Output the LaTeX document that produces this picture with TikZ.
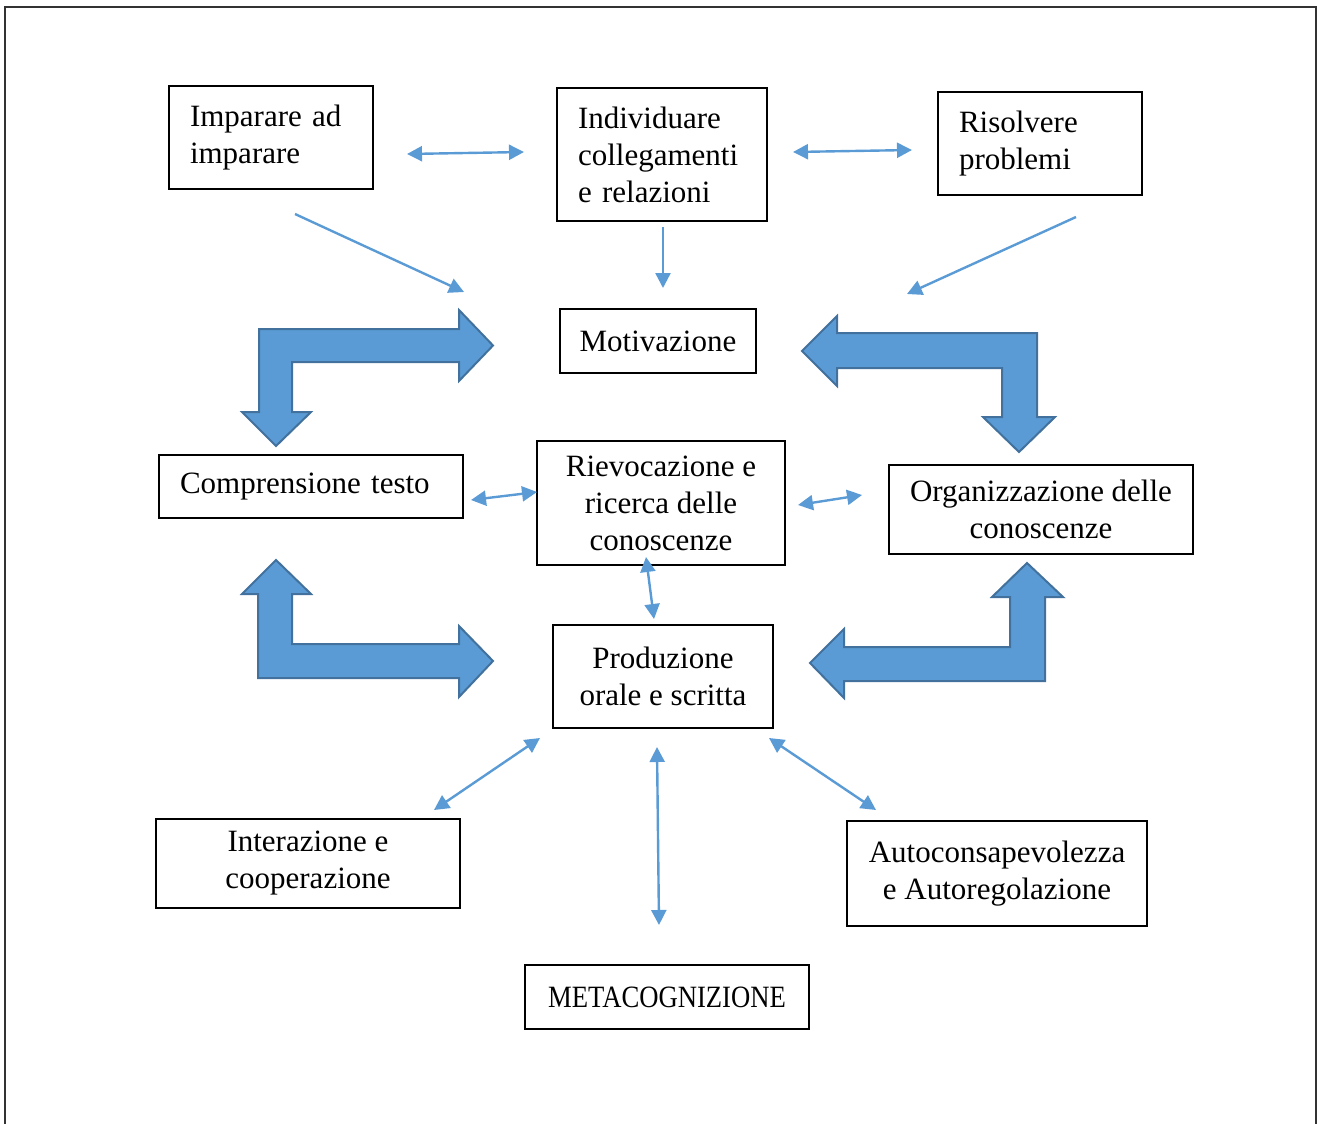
\documentclass[tikz,border=0pt]{standalone}
\usepackage{fontspec}
\setmainfont{Liberation Serif}
\usepackage{tikz}
\usetikzlibrary{arrows.meta}
\definecolor{mkblue}{HTML}{5B9BD5}
\definecolor{mkedge}{HTML}{41719C}
\definecolor{mkframe}{HTML}{333333}

\begin{document}
\begin{tikzpicture}[
  x=1pt, y=-1pt,
  box/.style={draw=black, line width=1.3pt, rectangle, inner xsep=15pt, inner ysep=0pt, align=center, font=\fontsize{31pt}{37pt}\selectfont},
  lbox/.style={box, inner xsep=21pt, align=left},
  thin/.style={draw=mkblue, line width=2.4pt, {Triangle[length=15pt,width=15pt]}-{Triangle[length=15pt,width=15pt]}},
  onearr/.style={draw=mkblue, line width=2.4pt, -{Triangle[length=15pt,width=15pt]}},
  bent/.style={fill=mkblue, draw=mkedge, line width=2pt, line join=miter}
]
\useasboundingbox (0,0) rectangle (1317,1124);
\draw[mkframe, line width=1.6pt] (5,1124) -- (5,7) -- (1316,7) -- (1316,1124);

\node[lbox, text width=162pt, minimum height=103pt] (imp) at (271,137.5) {Imparare ad\\imparare};
\node[lbox, text width=168pt, minimum height=133pt] (ind) at (662,154.5) {Individuare\\collegamenti\\e relazioni};
\node[lbox, text width=162pt, minimum height=103pt] (ris) at (1040,143.5) {Risolvere\\problemi};
\node[box, minimum width=196pt, minimum height=64pt] (mot) at (658,341) {Motivazione};
\node[lbox, text width=262pt, minimum height=63pt] (comp) at (311,486.5) {Comprensione testo};
\node[box, minimum width=248pt, minimum height=124pt] (riev) at (661,503) {Rievocazione e\\ricerca delle\\conoscenze};
\node[box, minimum width=304pt, minimum height=89pt] (org) at (1041,509.5) {Organizzazione delle\\conoscenze};
\node[box, minimum width=220pt, minimum height=103pt] (prod) at (663,676.5) {Produzione\\orale e scritta};
\node[box, minimum width=304pt, minimum height=89pt] (inter) at (308,863.5) {Interazione e\\cooperazione};
\node[box, minimum width=300pt, minimum height=105pt] (auto) at (997,873.5) {Autoconsapevolezza\\e Autoregolazione};
\node[box, minimum width=284pt, minimum height=64pt] (meta) at (667,997) {\scalebox{0.86}[1]{METACOGNIZIONE}};

\coordinate (impR) at (407,154);
\coordinate (indL) at (524,152);
\coordinate (indR) at (793,152);
\coordinate (risL) at (912,150);
\coordinate (indB) at (663,227);
\coordinate (motT) at (663,288);
\coordinate (impB) at (295,214);
\coordinate (motL) at (464,292);
\coordinate (risB) at (1076,217);
\coordinate (motR) at (907,294);
\coordinate (compR) at (471,500);
\coordinate (rievL) at (537,492);
\coordinate (rievR) at (798,505);
\coordinate (orgL) at (862,495);
\coordinate (rievB) at (646,557);
\coordinate (prodT) at (654,619);
\coordinate (prodL) at (540,738);
\coordinate (interT) at (434,810);
\coordinate (prodB) at (657,747);
\coordinate (metaT) at (659,925);
\coordinate (prodR) at (769,738);
\coordinate (autoT) at (876,810);

\draw[thin] (impR) -- (indL);
\draw[thin] (indR) -- (risL);
\draw[onearr] (indB) -- (motT);
\draw[onearr] (impB) -- (motL);
\draw[onearr] (risB) -- (motR);
\draw[thin] (compR) -- (rievL);
\draw[thin] (rievR) -- (orgL);
\draw[thin] (rievB) -- (prodT);
\draw[thin] (prodL) -- (interT);
\draw[thin] (prodB) -- (metaT);
\draw[thin] (prodR) -- (autoT);

\draw[bent] (259,329) -- (459,329) -- (459,310) -- (493,345.5) -- (459,381) -- (459,362) -- (292,362) -- (292,412) -- (311,412) -- (276,446) -- (242,412) -- (259,412) -- cycle;
\draw[bent] (802,351) -- (837,316) -- (837,333) -- (1037,333) -- (1037,417) -- (1055,417) -- (1019,452) -- (983,417) -- (1002,417) -- (1002,368) -- (837,368) -- (837,386) -- cycle;
\draw[bent] (276,560) -- (311,594) -- (292,594) -- (292,644) -- (459,644) -- (459,626) -- (493,661) -- (459,697) -- (459,678) -- (258,678) -- (258,594) -- (242,594) -- cycle;
\draw[bent] (1027,563) -- (1063,597) -- (1045,597) -- (1045,681) -- (844,681) -- (844,698) -- (810,663) -- (844,629) -- (844,647) -- (1010,647) -- (1010,597) -- (992,597) -- cycle;
\end{tikzpicture}
\end{document}
